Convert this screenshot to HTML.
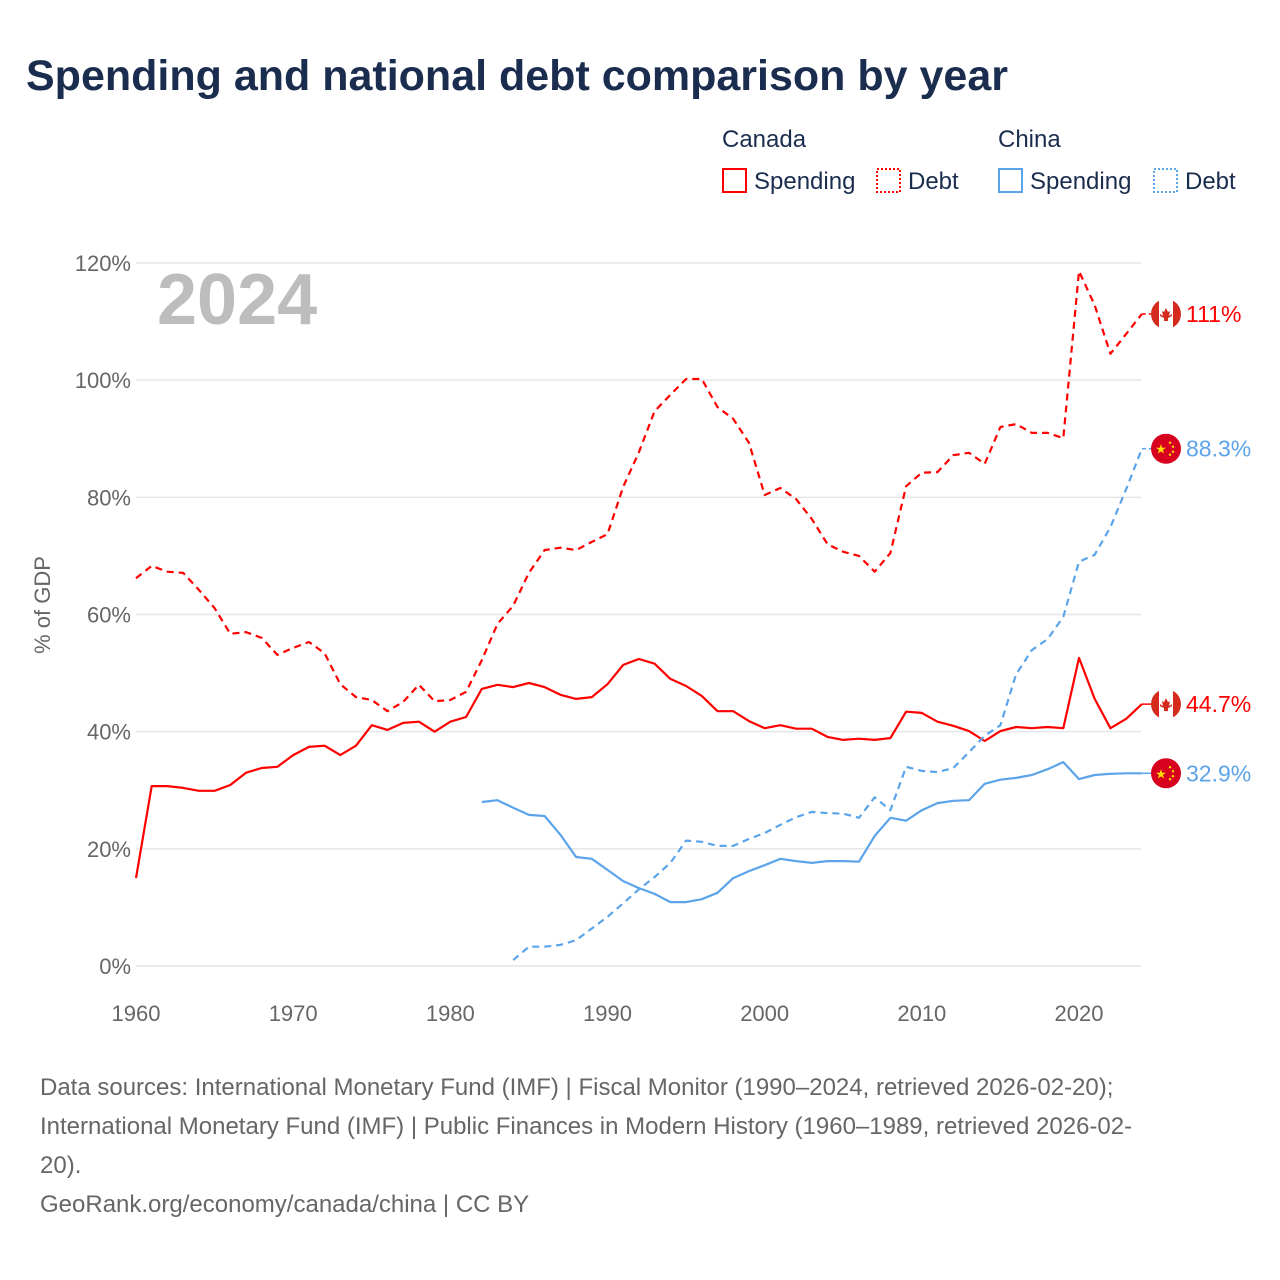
<!DOCTYPE html>
<html><head><meta charset="utf-8"><style>
body{margin:0;background:#fff;font-family:"Liberation Sans",sans-serif;}
#wrap{position:relative;width:1280px;height:1280px;overflow:hidden;}
.t{position:absolute;white-space:nowrap;}
</style></head><body>
<div id="wrap">
<div class="t" style="left:26px;top:52px;font-size:43px;font-weight:bold;color:#1b2d4e;">Spending and national debt comparison by year</div>
<svg id="chart" width="1280" height="1280" style="position:absolute;left:0;top:0;"></svg>
<div class="t" style="left:40px;top:1068px;font-size:24px;line-height:39px;color:#666;">Data sources: International Monetary Fund (IMF) | Fiscal Monitor (1990–2024, retrieved 2026-02-20);<br>International Monetary Fund (IMF) | Public Finances in Modern History (1960–1989, retrieved 2026-02-<br>20).<br>GeoRank.org/economy/canada/china | CC BY</div>
</div>
<script>
const years0 = 1960;
const canadaSpending = [15.0,30.7,30.7,30.4,29.9,29.9,30.9,33.0,33.8,34.0,36.0,37.4,37.6,36.0,37.6,41.1,40.3,41.5,41.7,40.0,41.7,42.5,47.3,48.0,47.6,48.3,47.6,46.3,45.6,45.9,48.1,51.4,52.4,51.6,49.0,47.8,46.1,43.5,43.5,41.8,40.6,41.1,40.5,40.5,39.1,38.6,38.8,38.6,38.9,43.4,43.2,41.7,41.0,40.1,38.4,40.1,40.8,40.6,40.8,40.6,52.6,45.6,40.6,42.2,44.7];
const canadaDebt = [66.2,68.3,67.3,67.1,64.2,61.1,56.7,57.0,56.0,53.1,54.3,55.3,53.4,48.1,45.9,45.4,43.5,45.1,48.0,45.2,45.4,46.8,52.2,58.4,61.5,67.1,71.0,71.4,71.0,72.4,73.7,81.8,87.7,94.7,97.5,100.2,100.2,95.4,93.4,89.3,80.4,81.6,79.7,76.3,72.0,70.7,70.0,67.3,70.5,81.9,84.2,84.3,87.2,87.6,85.7,92.0,92.5,91.0,91.0,90.1,118.6,112.8,104.5,107.9,111.3];
const chinaSpendingStart = 1982;
const chinaSpending = [28.0,28.3,27.0,25.8,25.6,22.4,18.6,18.3,16.4,14.5,13.3,12.3,10.9,10.9,11.4,12.5,15.0,16.2,17.2,18.3,17.9,17.6,17.9,17.9,17.8,22.2,25.3,24.8,26.6,27.8,28.2,28.3,31.1,31.8,32.1,32.6,33.6,34.8,31.9,32.6,32.8,32.9,32.9];
const chinaDebtStart = 1984;
const chinaDebt = [1.0,3.3,3.3,3.6,4.4,6.4,8.4,10.7,13.1,15.2,17.6,21.4,21.2,20.5,20.5,21.7,22.7,24.1,25.4,26.3,26.1,26.0,25.3,28.8,26.6,34.0,33.3,33.1,33.8,36.5,39.3,41.1,49.8,53.9,55.8,59.6,69.0,70.2,74.9,81.4,88.3];
const yTicks = [0,20,40,60,80,100,120];
const xTicks = [1960,1970,1980,1990,2000,2010,2020];
const endLabels = ["111%","88.3%","44.7%","32.9%"];

const NS="http://www.w3.org/2000/svg";
const svg=document.getElementById('chart');
const X=y=>136+(y-1960)*(943/60);
const Y=v=>966-v*(703/120);
function el(tag,attrs,parent){const e=document.createElementNS(NS,tag);for(const k in attrs)e.setAttribute(k,attrs[k]);(parent||svg).appendChild(e);return e;}
function txt(s,attrs){const e=el('text',attrs);e.textContent=s;return e;}

yTicks.forEach(v=>{
  const g=el('line',{x1:136,x2:1141,y1:Y(v),y2:Y(v),stroke:'#e6e6e6','stroke-width':1.5});
  
  
  const t=txt(v+'%',{x:131,y:Y(v)+8,'text-anchor':'end','font-size':22,fill:'#666','font-family':'Liberation Sans, sans-serif'});
  
  
});
xTicks.forEach(yr=>{
  const t=txt(String(yr),{x:X(yr),y:1021,'text-anchor':'middle','font-size':22,fill:'#666','font-family':'Liberation Sans, sans-serif'});
  
  
});
const yt=txt('% of GDP',{x:0,y:0,transform:'translate(50,605) rotate(-90)','text-anchor':'middle','font-size':22,fill:'#666','font-family':'Liberation Sans, sans-serif'});


const yr=txt('2024',{x:157,y:324,'font-size':72,'font-weight':'bold',fill:'#bdbdbd','font-family':'Liberation Sans, sans-serif'});



function series(arr,start,color,dash,name){
  const pts=arr.map((v,i)=>X(start+i).toFixed(1)+','+Y(v).toFixed(1)).join(' ');
  const p=el('polyline',{points:pts,fill:'none',stroke:color,'stroke-width':2.2,'stroke-linejoin':'round'});
  if(dash)p.setAttribute('stroke-dasharray','7,5');
  
  
  const last=arr[arr.length-1];
  const c=el('line',{x1:X(start+arr.length-1),x2:1152,y1:Y(last),y2:Y(last),stroke:color,'stroke-width':1.5});
  if(dash)c.setAttribute('stroke-dasharray','4,3');
  return last;
}
const cs=series(canadaSpending,years0,'#ff0000',false,'canada-spending-line');
const cd=series(canadaDebt,years0,'#ff0000',true,'canada-debt-line');
const ss=series(chinaSpending,chinaSpendingStart,'#5ba4ea',false,'china-spending-line');
const sd=series(chinaDebt,chinaDebtStart,'#5ba4ea',true,'china-debt-line');

function canadaFlag(cy,name){
  const g=el('g',{});
  
  
  el('clipPath',{id:'cp'+name},g);
  const cp=g.lastChild; el('circle',{cx:1166,cy:cy,r:15},cp);
  const inner=el('g',{'clip-path':'url(#cp'+name+')'},g);
  el('rect',{x:1151,y:cy-15,width:30,height:30,fill:'#fff'},inner);
  el('rect',{x:1151,y:cy-15,width:8,height:30,fill:'#d52b1e'},inner);
  el('rect',{x:1173,y:cy-15,width:8,height:30,fill:'#d52b1e'},inner);
  el('path',{d:`M1166 ${cy-6} l2 4 2-1 -1 5 3-2 0 2 -4 2 0 3 -4 0 0-3 -4-2 0-2 3 2 -1-5 2 1z`,fill:'#d52b1e'},inner);
}
function chinaFlag(cy,name){
  const g=el('g',{});
  
  
  el('circle',{cx:1166,cy:cy,r:15,fill:'#d7001f'},g);
  const s=txt('★',{x:1161,y:cy+5,'font-size':13,fill:'#ffde00','text-anchor':'middle','font-family':'DejaVu Sans, sans-serif'});
  g.appendChild(s);
  [[1170,-6],[1173,-2],[1173,3],[1170,6]].forEach(([x,dy])=>el('circle',{cx:x,cy:cy+dy,r:1.2,fill:'#ffde00'},g));
}
canadaFlag(Y(cd),'canada-debt-flag');
chinaFlag(Y(sd),'china-debt-flag');
canadaFlag(Y(cs),'canada-spending-flag');
chinaFlag(Y(ss),'china-spending-flag');
[[cd,'#ff0000',0],[sd,'#5ba4ea',1],[cs,'#ff0000',2],[ss,'#5ba4ea',3]].forEach(([v,c,i])=>{
  const t=txt(endLabels[i],{x:1186,y:Y(v)+8,'font-size':23,fill:c,'font-family':'Liberation Sans, sans-serif'});
  
  
});

// legend
function legText(s,x,y,name){const t=txt(s,{x:x,y:y,'font-size':24,fill:'#1b2d4e','font-family':'Liberation Sans, sans-serif'});}
legText('Canada',722,147,'legend-group-canada');
legText('China',998,147,'legend-group-china');
function legBox(x,color,dash,label,name){
  const g=el('g',{});
  
  
  const r=el('rect',{x:x,y:169,width:23,height:23,fill:'none',stroke:color,'stroke-width':2},g);
  if(dash)r.setAttribute('stroke-dasharray','2,2');
  const t=el('text',{x:x+31,y:189,'font-size':24,fill:'#1b2d4e','font-family':'Liberation Sans, sans-serif'},g);
  t.textContent=label;
}
legBox(723,'#ff0000',false,'Spending','legend-canada-spending');
legBox(877,'#ff0000',true,'Debt','legend-canada-debt');
legBox(999,'#5ba4ea',false,'Spending','legend-china-spending');
legBox(1154,'#5ba4ea',true,'Debt','legend-china-debt');
</script>
</body></html>
